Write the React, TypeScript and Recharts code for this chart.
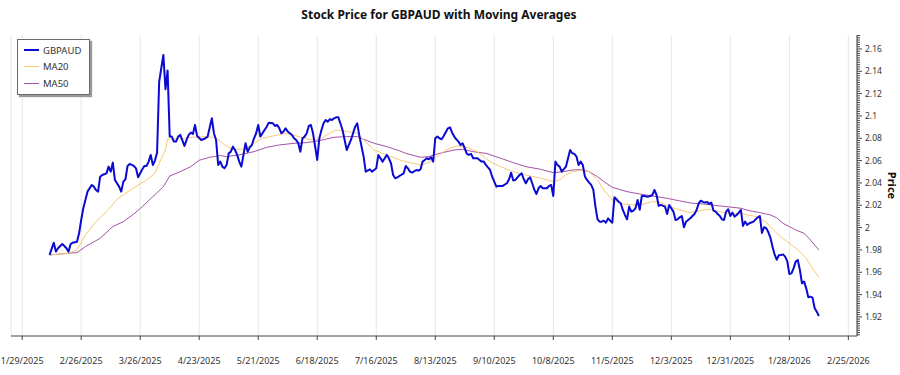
import { CartesianGrid, Legend, Line, LineChart, XAxis, YAxis } from "recharts";

const DAY = 86400000;

const tickLabels = [
  "1/29/2025", "2/26/2025", "3/26/2025", "4/23/2025", "5/21/2025", "6/18/2025", "7/16/2025",
  "8/13/2025", "9/10/2025", "10/8/2025", "11/5/2025", "12/3/2025", "12/31/2025", "1/28/2026", "2/25/2026",
];

const priceMajorTicks = [1.92, 1.94, 1.96, 1.98, 2, 2.02, 2.04, 2.06, 2.08, 2.1, 2.12, 2.14, 2.16];

const priceDates = [
  "2025-02-11", "2025-02-13", "2025-02-14", "2025-02-15", "2025-02-17", "2025-02-18", "2025-02-19", "2025-02-20", "2025-02-21", "2025-02-22", "2025-02-24", "2025-02-25", "2025-02-26", "2025-02-27", "2025-02-28",
  "2025-03-01", "2025-03-03", "2025-03-04", "2025-03-05", "2025-03-06", "2025-03-07", "2025-03-08", "2025-03-10", "2025-03-11", "2025-03-12", "2025-03-13", "2025-03-14", "2025-03-15", "2025-03-16", "2025-03-17", "2025-03-18", "2025-03-19", "2025-03-20", "2025-03-21", "2025-03-23", "2025-03-24", "2025-03-25", "2025-03-27", "2025-03-28", "2025-03-29", "2025-03-30", "2025-03-31",
  "2025-04-01", "2025-04-02", "2025-04-03", "2025-04-04", "2025-04-05", "2025-04-06", "2025-04-07", "2025-04-08", "2025-04-09", "2025-04-10", "2025-04-11", "2025-04-12", "2025-04-13", "2025-04-14", "2025-04-16", "2025-04-17", "2025-04-18", "2025-04-19", "2025-04-20", "2025-04-21", "2025-04-22", "2025-04-24", "2025-04-26", "2025-04-27", "2025-04-29", "2025-04-30",
  "2025-05-01", "2025-05-02", "2025-05-03", "2025-05-04", "2025-05-05", "2025-05-06", "2025-05-07", "2025-05-08", "2025-05-09", "2025-05-10", "2025-05-11", "2025-05-12", "2025-05-13", "2025-05-14", "2025-05-15", "2025-05-16", "2025-05-17", "2025-05-18", "2025-05-19", "2025-05-20", "2025-05-21", "2025-05-22", "2025-05-24", "2025-05-25", "2025-05-26", "2025-05-28", "2025-05-29", "2025-05-30", "2025-05-31",
  "2025-06-01", "2025-06-02", "2025-06-03", "2025-06-04", "2025-06-05", "2025-06-06", "2025-06-07", "2025-06-08", "2025-06-09", "2025-06-10", "2025-06-11", "2025-06-12", "2025-06-13", "2025-06-14", "2025-06-15", "2025-06-16", "2025-06-17", "2025-06-18", "2025-06-19", "2025-06-20", "2025-06-21", "2025-06-22", "2025-06-23", "2025-06-24", "2025-06-25", "2025-06-26", "2025-06-27", "2025-06-28", "2025-06-29", "2025-06-30",
  "2025-07-01", "2025-07-02", "2025-07-03", "2025-07-04", "2025-07-05", "2025-07-06", "2025-07-07", "2025-07-08", "2025-07-10", "2025-07-11", "2025-07-13", "2025-07-14", "2025-07-15", "2025-07-16", "2025-07-17", "2025-07-18", "2025-07-19", "2025-07-21", "2025-07-22", "2025-07-23", "2025-07-24", "2025-07-25", "2025-07-26", "2025-07-27", "2025-07-29", "2025-07-30", "2025-07-31",
  "2025-08-01", "2025-08-02", "2025-08-04", "2025-08-05", "2025-08-06", "2025-08-07", "2025-08-08", "2025-08-09", "2025-08-10", "2025-08-11", "2025-08-12", "2025-08-13", "2025-08-14", "2025-08-15", "2025-08-16", "2025-08-17", "2025-08-19", "2025-08-20", "2025-08-21", "2025-08-22", "2025-08-23", "2025-08-24", "2025-08-25", "2025-08-26", "2025-08-27", "2025-08-28", "2025-08-29", "2025-08-30", "2025-08-31",
  "2025-09-02", "2025-09-03", "2025-09-04", "2025-09-05", "2025-09-06", "2025-09-08", "2025-09-09", "2025-09-10", "2025-09-11", "2025-09-12", "2025-09-13", "2025-09-14", "2025-09-16", "2025-09-17", "2025-09-18", "2025-09-19", "2025-09-20", "2025-09-21", "2025-09-22", "2025-09-23", "2025-09-24", "2025-09-25", "2025-09-26", "2025-09-27", "2025-09-28", "2025-09-29", "2025-09-30",
  "2025-10-01", "2025-10-02", "2025-10-03", "2025-10-05", "2025-10-06", "2025-10-07", "2025-10-08", "2025-10-09", "2025-10-10", "2025-10-11", "2025-10-12", "2025-10-14", "2025-10-15", "2025-10-16", "2025-10-17", "2025-10-18", "2025-10-19", "2025-10-20", "2025-10-21", "2025-10-22", "2025-10-23", "2025-10-24", "2025-10-25", "2025-10-26", "2025-10-27", "2025-10-28", "2025-10-29", "2025-10-30", "2025-10-31",
  "2025-11-01", "2025-11-02", "2025-11-03", "2025-11-04", "2025-11-05", "2025-11-06", "2025-11-07", "2025-11-08", "2025-11-09", "2025-11-10", "2025-11-11", "2025-11-12", "2025-11-13", "2025-11-14", "2025-11-15", "2025-11-16", "2025-11-17", "2025-11-18", "2025-11-19", "2025-11-20", "2025-11-22", "2025-11-23", "2025-11-24", "2025-11-25", "2025-11-26", "2025-11-27", "2025-11-28", "2025-11-30",
  "2025-12-01", "2025-12-02", "2025-12-04", "2025-12-05", "2025-12-06", "2025-12-07", "2025-12-08", "2025-12-09", "2025-12-10", "2025-12-11", "2025-12-12", "2025-12-13", "2025-12-14", "2025-12-15", "2025-12-16", "2025-12-17", "2025-12-18", "2025-12-19", "2025-12-20", "2025-12-21", "2025-12-22", "2025-12-23", "2025-12-24", "2025-12-25", "2025-12-26", "2025-12-27", "2025-12-28", "2025-12-29", "2025-12-30", "2025-12-31",
  "2026-01-01", "2026-01-02", "2026-01-03", "2026-01-04", "2026-01-05", "2026-01-06", "2026-01-07", "2026-01-08", "2026-01-09", "2026-01-11", "2026-01-12", "2026-01-13", "2026-01-14", "2026-01-15", "2026-01-16", "2026-01-17", "2026-01-18", "2026-01-19", "2026-01-20", "2026-01-21", "2026-01-22", "2026-01-23", "2026-01-24", "2026-01-25", "2026-01-26", "2026-01-27", "2026-01-28", "2026-01-29", "2026-01-30", "2026-01-31",
  "2026-02-01", "2026-02-02", "2026-02-03", "2026-02-04", "2026-02-05", "2026-02-06", "2026-02-07", "2026-02-08", "2026-02-09", "2026-02-10", "2026-02-11",
];

const priceValues = [
  1.9755, 1.9865, 1.9785, 1.9815, 1.9853, 1.9835, 1.9815, 1.9785, 1.9853, 1.9865, 1.9874, 1.9949, 2.0068, 2.0173, 2.0247,
  2.0322, 2.0382, 2.0367, 2.0337, 2.0322, 2.0456, 2.0471, 2.0486, 2.0546, 2.0501, 2.0582, 2.0427, 2.0397, 2.0367, 2.0322, 2.0412, 2.0433, 2.0552, 2.057, 2.0552, 2.0531, 2.0451, 2.0522, 2.0552, 2.0552, 2.0591, 2.0651,
  2.0561, 2.06, 2.0671, 2.1307, 2.1427, 2.1546, 2.1239, 2.1406, 2.0815, 2.0815, 2.077, 2.077, 2.0815, 2.083, 2.0731, 2.0785, 2.083, 2.0851, 2.0839, 2.0919, 2.0821, 2.0785, 2.08, 2.0815, 2.0979, 2.0845,
  2.0785, 2.0561, 2.0591, 2.0546, 2.0531, 2.0561, 2.0665, 2.068, 2.0725, 2.0695, 2.0651, 2.0591, 2.0546, 2.0651, 2.0755, 2.068, 2.0719, 2.074, 2.08, 2.0845, 2.0919, 2.0815, 2.0874, 2.0904, 2.094, 2.0934, 2.091, 2.0919, 2.0889,
  2.0845, 2.086, 2.0889, 2.086, 2.0845, 2.083, 2.08, 2.0785, 2.0755, 2.068, 2.08, 2.0815, 2.0845, 2.091, 2.0919, 2.0845, 2.0725, 2.0606, 2.08, 2.0874, 2.0934, 2.0964, 2.0949, 2.097, 2.0964, 2.0979, 2.0988, 2.0988, 2.0934, 2.0874,
  2.0785, 2.0695, 2.074, 2.0785, 2.0845, 2.0904, 2.0934, 2.082, 2.0636, 2.0501, 2.0522, 2.0501, 2.0516, 2.0531, 2.0651, 2.0621, 2.0591, 2.0651, 2.0621, 2.0576, 2.0471, 2.0442, 2.045, 2.0462, 2.0486, 2.0552, 2.0531,
  2.0501, 2.0492, 2.0516, 2.051, 2.0522, 2.0591, 2.0606, 2.0621, 2.0612, 2.063, 2.0591, 2.08, 2.0815, 2.08, 2.0791, 2.0821, 2.0889, 2.0898, 2.085, 2.0815, 2.0791, 2.077, 2.074, 2.0755, 2.071, 2.066, 2.0651, 2.066, 2.0621,
  2.0621, 2.0606, 2.0591, 2.0591, 2.0561, 2.0516, 2.0456, 2.0412, 2.0367, 2.0373, 2.0373, 2.0373, 2.0397, 2.0433, 2.0492, 2.0421, 2.0427, 2.045, 2.0471, 2.0486, 2.0433, 2.0397, 2.0433, 2.045, 2.0397, 2.034, 2.0301,
  2.0352, 2.0373, 2.0352, 2.0352, 2.0373, 2.0382, 2.0283, 2.0591, 2.0561, 2.0546, 2.0501, 2.0546, 2.0621, 2.0695, 2.0666, 2.066, 2.0636, 2.0561, 2.0591, 2.0561, 2.0457, 2.0427, 2.0403, 2.0382, 2.0337, 2.0188, 2.0074, 2.0053, 2.0053,
  2.0062, 2.0044, 2.0083, 2.0062, 2.0044, 2.0271, 2.0253, 2.0232, 2.0218, 2.0158, 2.0113, 2.0074, 2.0188, 2.0143, 2.0152, 2.0173, 2.0247, 2.016, 2.0283, 2.0283, 2.0277, 2.0283, 2.0292, 2.0337, 2.0292, 2.0194, 2.0203, 2.0188,
  2.0122, 2.0203, 2.0143, 2.0068, 2.0074, 2.0092, 2.0104, 2.0003, 2.0053, 2.0068, 2.0083, 2.0104, 2.0122, 2.0158, 2.0218, 2.0241, 2.023, 2.0224, 2.023, 2.0212, 2.0224, 2.0152, 2.0143, 2.0122, 2.0104, 2.0074, 2.0068, 2.0143, 2.0164, 2.0104,
  2.0134, 2.0098, 2.0113, 2.0134, 2.0158, 2.0015, 2.0054, 2.0024, 2.0039, 2.0054, 2.0074, 2.009, 2.0104, 1.9952, 2.0003, 1.9995, 1.996, 1.991, 1.983, 1.976, 1.9712, 1.9752, 1.9755, 1.976, 1.974, 1.97, 1.9585, 1.959, 1.9635, 1.9695,
  1.971, 1.9621, 1.9501, 1.9516, 1.9456, 1.9376, 1.9382, 1.9373, 1.928, 1.9247, 1.9208,
];

const ma20Dates = [
  "2025-02-11", "2025-02-20", "2025-02-24", "2025-02-28", "2025-03-05", "2025-03-10", "2025-03-15", "2025-03-19", "2025-03-24", "2025-03-29",
  "2025-04-02", "2025-04-04", "2025-04-07", "2025-04-08", "2025-04-14", "2025-04-20", "2025-04-26", "2025-05-01", "2025-05-05", "2025-05-09",
  "2025-05-14", "2025-05-19", "2025-05-23", "2025-05-28", "2025-06-03", "2025-06-08", "2025-06-14", "2025-06-19", "2025-06-24", "2025-06-27",
  "2025-07-02", "2025-07-07", "2025-07-10", "2025-07-15", "2025-07-21", "2025-07-27", "2025-07-30", "2025-08-06", "2025-08-10", "2025-08-14",
  "2025-08-18", "2025-08-23", "2025-08-28", "2025-09-02", "2025-09-08", "2025-09-13", "2025-09-19", "2025-09-25", "2025-10-02", "2025-10-08",
  "2025-10-11", "2025-10-14", "2025-10-17", "2025-10-21", "2025-10-25", "2025-10-29", "2025-11-01", "2025-11-05", "2025-11-10", "2025-11-15",
  "2025-11-20", "2025-11-24", "2025-11-28", "2025-12-02", "2025-12-07", "2025-12-12", "2025-12-17", "2025-12-21", "2025-12-26", "2025-12-31",
  "2026-01-05", "2026-01-08", "2026-01-11", "2026-01-14", "2026-01-17", "2026-01-20", "2026-01-24", "2026-01-27", "2026-01-30", "2026-02-02",
  "2026-02-05", "2026-02-08", "2026-02-11",
];

const ma20Values = [
  1.9755, 1.977, 1.98, 1.9934, 2.0053, 2.0143, 2.0253, 2.0307, 2.0367, 2.0427,
  2.0486, 2.0576, 2.0695, 2.0791, 2.0797, 2.0809, 2.0815, 2.0806, 2.074, 2.0701,
  2.0701, 2.0755, 2.08, 2.0821, 2.0845, 2.0821, 2.0791, 2.0791, 2.0845, 2.0874,
  2.086, 2.0845, 2.0785, 2.0695, 2.0651, 2.0606, 2.0591, 2.0561, 2.0582, 2.0636,
  2.0695, 2.0731, 2.0719, 2.068, 2.0591, 2.0546, 2.0501, 2.0471, 2.0442, 2.0412,
  2.0427, 2.0471, 2.0501, 2.0513, 2.0501, 2.0427, 2.0337, 2.0247, 2.0212, 2.0203,
  2.0212, 2.0233, 2.0224, 2.0188, 2.0158, 2.0134, 2.0152, 2.0164, 2.0143, 2.0122,
  2.0128, 2.0113, 2.0104, 2.0088, 2.005, 1.9985, 1.9915, 1.9874, 1.983, 1.9785,
  1.9725, 1.9635, 1.9555,
];

const ma50Dates = [
  "2025-02-11", "2025-02-24", "2025-02-28", "2025-03-07", "2025-03-13", "2025-03-18", "2025-03-23", "2025-03-27", "2025-04-01", "2025-04-06",
  "2025-04-09", "2025-04-14", "2025-04-19", "2025-04-23", "2025-04-28", "2025-05-03", "2025-05-06", "2025-05-12", "2025-05-19", "2025-05-25",
  "2025-05-31", "2025-06-07", "2025-06-13", "2025-06-19", "2025-06-26", "2025-07-02", "2025-07-07", "2025-07-10", "2025-07-15", "2025-07-21",
  "2025-07-27", "2025-07-30", "2025-08-06", "2025-08-10", "2025-08-15", "2025-08-22", "2025-08-26", "2025-08-31", "2025-09-06", "2025-09-13",
  "2025-09-19", "2025-09-25", "2025-10-02", "2025-10-08", "2025-10-13", "2025-10-17", "2025-10-21", "2025-10-25", "2025-10-29", "2025-11-01",
  "2025-11-05", "2025-11-12", "2025-11-18", "2025-11-24", "2025-12-01", "2025-12-07", "2025-12-13", "2025-12-18", "2025-12-23", "2025-12-29",
  "2026-01-05", "2026-01-09", "2026-01-14", "2026-01-19", "2026-01-22", "2026-01-25", "2026-01-28", "2026-01-31", "2026-02-04", "2026-02-07",
  "2026-02-11",
];

const ma50Values = [
  1.9755, 1.9776, 1.9829, 1.9904, 2.0009, 2.0053, 2.0122, 2.0188, 2.0277, 2.0367,
  2.0462, 2.0501, 2.0546, 2.0603, 2.063, 2.0645, 2.0636, 2.0651, 2.068, 2.0719,
  2.074, 2.0755, 2.0761, 2.0779, 2.0809, 2.0815, 2.0815, 2.0791, 2.0755, 2.0725,
  2.0688, 2.0665, 2.063, 2.0636, 2.0665, 2.0695, 2.0701, 2.068, 2.0665, 2.0621,
  2.0582, 2.0546, 2.0522, 2.0492, 2.0501, 2.0516, 2.0519, 2.0501, 2.0456, 2.0412,
  2.0361, 2.0322, 2.0301, 2.0283, 2.0262, 2.0239, 2.0218, 2.0212, 2.02, 2.0188,
  2.0173, 2.0152, 2.0134, 2.0113, 2.0088, 2.0038, 2.0009, 1.9979, 1.9949, 1.9889,
  1.98,
];

const isoTime = (s: string) => {
  const [y, m, d] = s.split("-").map(Number);
  return Date.UTC(y, m - 1, d);
};
const usTime = (s: string) => {
  const [m, d, y] = s.split("/").map(Number);
  return Date.UTC(y, m - 1, d);
};

const toSeries = (dates: string[], values: number[]) =>
  dates.map((d, i) => ({ t: isoTime(d), v: values[i] }));

const priceData = toSeries(priceDates, priceValues);
const ma20Data = toSeries(ma20Dates, ma20Values);
const ma50Data = toSeries(ma50Dates, ma50Values);

const xTicks = tickLabels.map(usTime);
const xDomain = [xTicks[0] - 5.3 * DAY, xTicks[0] + 396.1 * DAY];
const yDomain = [1.9029, 2.1725];

// every 0.002 gets a small tick; the labelled ones come from priceMajorTicks
const yTicks: number[] = [];
for (let i = 0; i <= 134; i++) yTicks.push(Math.round((1.904 + i * 0.002) * 1000) / 1000);

const FONT = "'Noto Sans', 'Open Sans', sans-serif";

const colors = { price: "#0a0ad2", ma20: "#f9c872", ma50: "#a452a8" };

const legendItems = [
  { name: "GBPAUD", color: colors.price, width: 2 },
  { name: "MA20", color: colors.ma20, width: 1.2 },
  { name: "MA50", color: colors.ma50, width: 1.2 },
];

const PriceTick = (props: any) => {
  const { x, y, payload } = props;
  const major = priceMajorTicks.some((m) => Math.abs(m - payload.value) < 1e-6);
  return (
    <g>
      <line x1={x} y1={y} x2={x + (major ? 5 : 3)} y2={y} stroke="#444" />
      {major && (
        <text x={x + 8} y={y} dy={3.2} fontSize={8.5} fill="#333" fontFamily={FONT}>
          {String(payload.value)}
        </text>
      )}
    </g>
  );
};

const PriceLabel = (props: any) => {
  const { viewBox } = props;
  const cx = viewBox.x + 35.5;
  const cy = viewBox.y + viewBox.height / 2;
  return (
    <text
      x={cx}
      y={cy}
      transform={`rotate(90 ${cx} ${cy})`}
      textAnchor="middle"
      dominantBaseline="central"
      fontSize={11}
      fontWeight="bold"
      fill="#111"
      fontFamily={FONT}
    >
      Price
    </text>
  );
};

const LegendBox = () => (
  <div
    style={{
      background: "#fff",
      border: "1px solid #6a6a6a",
      boxShadow: "2px 2px 1px #9a9a9a",
      padding: "2px 8px 2px 6px",
      fontFamily: FONT,
      fontSize: 9.5,
      color: "#333",
    }}
  >
    {legendItems.map((it) => (
      <div key={it.name} style={{ display: "flex", alignItems: "center", height: 16.5 }}>
        <span
          style={{
            display: "inline-block",
            width: 15,
            height: 0,
            borderTop: `${it.width}px solid ${it.color}`,
            marginRight: 4,
          }}
        />
        <span>{it.name}</span>
      </div>
    ))}
  </div>
);

const App = () => {
  return (
    <div style={{ position: "absolute", left: 0, top: 0, width: 900, height: 375, background: "#fff" }}>
      <div
        style={{
          position: "absolute",
          left: 0,
          width: 878,
          top: 6,
          textAlign: "center",
          fontFamily: FONT,
          fontWeight: "bold",
          fontSize: 12,
          color: "#111",
        }}
      >
        Stock Price for GBPAUD with Moving Averages
      </div>
      <LineChart width={900} height={375} margin={{ top: 35, right: 0, bottom: 0, left: 11 }}>
        <CartesianGrid vertical horizontal={false} stroke="#e6e6e6" />
        <XAxis
          dataKey="t"
          type="number"
          domain={xDomain}
          allowDataOverflow
          ticks={xTicks}
          interval={0}
          tickFormatter={(v: number) => tickLabels[xTicks.indexOf(v)] ?? ""}
          height={39}
          tickSize={4}
          tickMargin={18}
          stroke="#444"
          tick={{ fontSize: 9, fill: "#333", fontFamily: FONT }}
        />
        <XAxis
          xAxisId="top"
          orientation="top"
          type="number"
          domain={xDomain}
          allowDataOverflow
          height={0}
          tick={false}
          tickLine={false}
          stroke="#666"
        />
        <YAxis
          type="number"
          orientation="right"
          domain={yDomain}
          allowDataOverflow
          ticks={yTicks}
          interval={0}
          width={43}
          tickSize={0}
          tickMargin={0}
          tickLine={false}
          stroke="#444"
          tick={<PriceTick />}
          label={<PriceLabel />}
        />
        <YAxis
          yAxisId="frame"
          orientation="left"
          type="number"
          domain={yDomain}
          allowDataOverflow
          width={0}
          tick={false}
          tickLine={false}
          stroke="#666"
        />
        <Legend
          layout="vertical"
          align="center"
          verticalAlign="middle"
          wrapperStyle={{ left: 17, top: 39, width: "auto", height: "auto" }}
          content={() => <LegendBox />}
        />
        <Line
          data={ma50Data}
          dataKey="v"
          type="linear"
          stroke={colors.ma50}
          strokeWidth={1}
          dot={false}
          isAnimationActive={false}
        />
        <Line
          data={ma20Data}
          dataKey="v"
          type="linear"
          stroke={colors.ma20}
          strokeWidth={1}
          dot={false}
          isAnimationActive={false}
        />
        <Line
          data={priceData}
          dataKey="v"
          type="linear"
          stroke={colors.price}
          strokeWidth={2}
          strokeLinejoin="round"
          dot={false}
          isAnimationActive={false}
        />
      </LineChart>
    </div>
  );
};

export default App;
